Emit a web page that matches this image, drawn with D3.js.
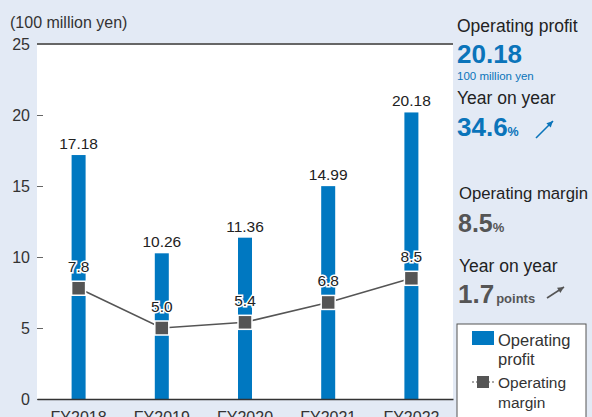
<!DOCTYPE html>
<html>
<head>
<meta charset="utf-8">
<script src="https://cdn.jsdelivr.net/npm/d3@7"></script>
<style>
  body { margin: 0; background: #e3eaf5; }
  svg { display: block; font-family: "Liberation Sans", Arial, sans-serif; }
</style>
</head>
<body>
<svg width="592" height="417"></svg>
<script>
const years = ["FY2018", "FY2019", "FY2020", "FY2021", "FY2022"];
const profit = [17.18, 10.26, 11.36, 14.99, 20.18];
const margin = [7.8, 5.0, 5.4, 6.8, 8.5];
const yTicks = [0, 5, 10, 15, 20, 25];

const svg = d3.select("svg");
const blue = "#0078c1", gray = "#555555";

// plot area
const plotL = 37, plotR = 453, plotT = 44, plotB = 399;
const x = d3.scaleBand().domain(years).range([plotL, plotR]);
const y = d3.scaleLinear().domain([0, 25]).range([plotB, plotT]);

svg.append("rect")
  .attr("x", plotL).attr("y", plotT)
  .attr("width", plotR - plotL).attr("height", plotB - plotT)
  .attr("fill", "#fff");

// y axis (ticks inside white area)
const yAxis = svg.append("g")
  .attr("transform", `translate(${plotL},0)`)
  .call(d3.axisRight(y).tickValues(yTicks).tickSize(6).tickFormat(d3.format("d")));
yAxis.select(".domain").remove();
yAxis.selectAll(".tick line").attr("stroke", "#666");
yAxis.selectAll(".tick text")
  .attr("x", -7).attr("text-anchor", "end")
  .attr("font-size", 16).attr("fill", "#333");

// top line at 25
svg.append("line")
  .attr("x1", plotL).attr("x2", plotR)
  .attr("y1", y(25)).attr("y2", y(25))
  .attr("stroke", "#666").attr("stroke-width", 2);

svg.append("text")
  .attr("x", 10).attr("y", 28)
  .attr("font-size", 16).attr("fill", "#333")
  .text("(100 million yen)");

// bars
const bw = 14;
const cx = (d, i) => x(years[i]) + x.bandwidth() / 2;
svg.append("g").selectAll("rect")
  .data(profit)
  .join("rect")
  .attr("x", (d, i) => cx(d, i) - bw / 2)
  .attr("y", d => y(d))
  .attr("width", bw)
  .attr("height", d => plotB - y(d))
  .attr("fill", blue);

svg.append("g").selectAll("text")
  .data(profit)
  .join("text")
  .attr("x", cx)
  .attr("y", d => y(d) - 6)
  .attr("text-anchor", "middle")
  .attr("font-size", 15.5).attr("fill", "#222")
  .text(d => d.toFixed(2));

// x axis
const xAxis = svg.append("g")
  .attr("transform", `translate(0,${plotB})`)
  .call(d3.axisBottom(x).tickSize(0).tickPadding(10));
xAxis.select(".domain").attr("stroke", "#333").attr("stroke-width", 1.5);
xAxis.selectAll(".tick text").attr("font-size", 16).attr("fill", "#333").attr("dy", "0.9em");

// margin line
svg.append("path")
  .datum(margin)
  .attr("fill", "none").attr("stroke", gray).attr("stroke-width", 1.6)
  .attr("d", d3.line().x(cx).y(d => y(d)));

svg.append("g").selectAll("rect")
  .data(margin)
  .join("rect")
  .attr("x", (d, i) => cx(d, i) - 7)
  .attr("y", d => y(d) - 7)
  .attr("width", 14).attr("height", 14)
  .attr("fill", gray).attr("stroke", "#fff").attr("stroke-width", 1.5);

svg.append("g").selectAll("text")
  .data(margin)
  .join("text")
  .attr("x", cx)
  .attr("y", d => y(d) - 16)
  .attr("text-anchor", "middle")
  .attr("font-size", 15.5).attr("fill", "#222")
  .attr("stroke", "#fff").attr("stroke-width", 3).attr("paint-order", "stroke")
  .text(d => d.toFixed(1));

// right panel
const panel = svg.append("g");
panel.append("text").attr("x", 457).attr("y", 32)
  .attr("font-size", 17.5).attr("fill", "#222").text("Operating profit");
panel.append("text").attr("x", 457).attr("y", 63)
  .attr("font-size", 26).attr("font-weight", "bold").attr("fill", "#0a74ba")
  .text(profit[profit.length - 1].toFixed(2));
panel.append("text").attr("x", 457).attr("y", 80)
  .attr("font-size", 11.5).attr("fill", "#0a74ba").text("100 million yen");
panel.append("text").attr("x", 457).attr("y", 104)
  .attr("font-size", 17.5).attr("fill", "#222").text("Year on year");
const yoy = panel.append("text").attr("x", 457).attr("y", 136)
  .attr("font-weight", "bold").attr("fill", "#0a74ba");
yoy.append("tspan").attr("font-size", 26).text("34.6");
yoy.append("tspan").attr("font-size", 12.5).text("%");

panel.append("text").attr("x", 459).attr("y", 199)
  .attr("font-size", 16.7).attr("fill", "#222").text("Operating margin");
const mg = panel.append("text").attr("x", 458).attr("y", 232)
  .attr("font-weight", "bold").attr("fill", gray);
mg.append("tspan").attr("font-size", 25).text(margin[margin.length - 1].toFixed(1));
mg.append("tspan").attr("font-size", 13).text("%");
panel.append("text").attr("x", 459).attr("y", 272)
  .attr("font-size", 17.5).attr("fill", "#222").text("Year on year");
const pt = panel.append("text").attr("x", 458).attr("y", 303)
  .attr("font-weight", "bold").attr("fill", gray);
pt.append("tspan").attr("font-size", 26).text("1.7");
pt.append("tspan").attr("font-size", 13).attr("dx", 2).text("points");

// arrows
function arrow(x1, y1, x2, y2, c) {
  panel.append("line").attr("x1", x1).attr("y1", y1).attr("x2", x2).attr("y2", y2)
    .attr("stroke", c).attr("stroke-width", 1.6);
  const a = Math.atan2(y2 - y1, x2 - x1), L = 7;
  const p = [[x2, y2],
    [x2 - L * Math.cos(a - 0.45), y2 - L * Math.sin(a - 0.45)],
    [x2 - L * Math.cos(a + 0.45), y2 - L * Math.sin(a + 0.45)]];
  panel.append("path").attr("d", "M" + p.join("L") + "Z").attr("fill", c);
}
arrow(536, 138, 553, 121, "#0a74ba");
arrow(547, 298, 564, 287, gray);

// legend
const lg = svg.append("g");
lg.append("rect").attr("x", 457).attr("y", 324).attr("width", 129).attr("height", 110)
  .attr("fill", "#fff").attr("stroke", "#555").attr("stroke-width", 1);
lg.append("rect").attr("x", 472).attr("y", 331).attr("width", 22).attr("height", 14).attr("fill", blue);
lg.append("line").attr("x1", 472).attr("x2", 494).attr("y1", 382).attr("y2", 382)
  .attr("stroke", gray).attr("stroke-width", 1.2).attr("stroke-dasharray", "2,2");
lg.append("rect").attr("x", 477).attr("y", 376).attr("width", 12).attr("height", 12).attr("fill", gray);
[["Operating", 346, 16.5], ["profit", 365, 16.5], ["Operating", 388, 15.5], ["margin", 408, 15.5]].forEach(([t, yy, fs]) => {
  lg.append("text").attr("x", 498).attr("y", yy)
    .attr("font-size", fs).attr("fill", "#333").text(t);
});
</script>
</body>
</html>
